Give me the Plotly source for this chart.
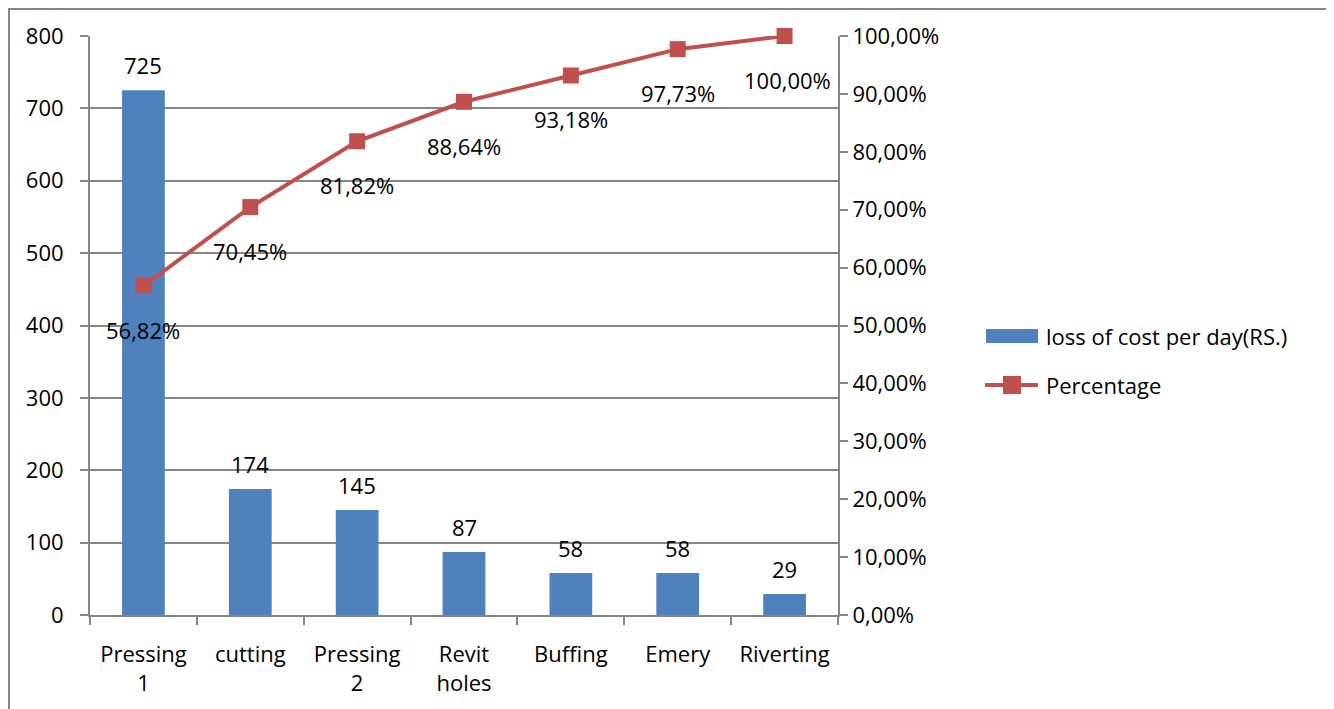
import plotly.graph_objects as go

categories = ["Pressing<br>1", "cutting", "Pressing<br>2", "Revit<br>holes", "Buffing", "Emery", "Riverting"]
loss_cost = [725, 174, 145, 87, 58, 58, 29]
cum_pct = [0.5682, 0.7045, 0.8182, 0.8864, 0.9318, 0.9773, 1.0]
left_ticks = [0, 100, 200, 300, 400, 500, 600, 700, 800]
right_ticks = [0, 0.1, 0.2, 0.3, 0.4, 0.5, 0.6, 0.7, 0.8, 0.9, 1.0]
bar_name = "loss of cost per day(RS.)"
line_name = "Percentage"

FONT = "Open Sans"
FS = 22
GRID = "#868686"
BLUE = "#4F81BD"
RED = "#C0504D"

fig = go.Figure()
fig.add_trace(go.Bar(
    x=categories, y=loss_cost, name=bar_name,
    marker=dict(color=BLUE, line=dict(width=0)), width=0.4, showlegend=False,
))
fig.add_trace(go.Scatter(
    x=categories, y=cum_pct, name=line_name, yaxis="y2",
    mode="lines+markers",
    line=dict(color=RED, width=4),
    marker=dict(symbol="square", size=16, color=RED),
    showlegend=False, cliponaxis=False,
))

annotations = []
for c, v in zip(categories, loss_cost):
    annotations.append(dict(x=c, y=v, xref="x", yref="y", text=str(v), showarrow=False,
                            yanchor="middle", yshift=25, font=dict(size=FS, family=FONT, color="black")))
for i, (c, p) in enumerate(zip(categories, cum_pct)):
    txt = f"{p*100:.2f}%".replace(".", ",")
    annotations.append(dict(x=c, y=p, xref="x", yref="y2", text=txt, showarrow=False,
                            yanchor="middle", yshift=-44, xshift=3 if i == len(categories) - 1 else 0,
                            font=dict(size=FS, family=FONT, color="black")))

# legend (drawn manually to match wide swatches)
annotations.append(dict(x=1.2754, y=0.4819, xref="paper", yref="paper", text=bar_name,
                        showarrow=False, xanchor="left", yanchor="middle",
                        font=dict(size=FS, family=FONT, color="black")))
annotations.append(dict(x=1.2754, y=0.3972, xref="paper", yref="paper", text=line_name,
                        showarrow=False, xanchor="left", yanchor="middle",
                        font=dict(size=FS, family=FONT, color="black")))

shapes = [
    dict(type="rect", xref="paper", yref="paper", x0=-0.1083, x1=1.655, y0=-0.1675, y1=1.0466,
         line=dict(color="#868686", width=2), layer="below"),
    dict(type="rect", xref="paper", yref="paper", x0=1.1979, x1=1.2674, y0=0.4698, y1=0.4940,
         fillcolor=BLUE, line=dict(width=0)),
    dict(type="line", xref="paper", yref="paper", x0=1.1965, x1=1.2674, y0=0.3972, y1=0.3972,
         line=dict(color=RED, width=4)),
    dict(type="rect", xref="paper", yref="paper", x0=1.2206, x1=1.2447, y0=0.3817, y1=0.4128,
         fillcolor=RED, line=dict(width=0)),
]

fig.update_layout(
    width=1334, height=709,
    margin=dict(l=82, r=504, t=28, b=102, autoexpand=False),
    paper_bgcolor="white", plot_bgcolor="white",
    separators=",.",
    font=dict(family=FONT, size=FS, color="black"),
    showlegend=False,
    xaxis=dict(
        automargin=False,
        showgrid=False, showline=True, linecolor=GRID, linewidth=2,
        ticks="outside", tickson="boundaries", ticklen=8, tickcolor=GRID, tickwidth=2,
        tickfont=dict(size=FS, family=FONT), ticklabelstandoff=19,
    ),
    yaxis=dict(
        automargin=False,
        range=[0, 800], tickvals=left_ticks, showgrid=True, gridcolor=GRID, gridwidth=1.5,
        showline=True, linecolor=GRID, linewidth=2, ticks="outside", ticklen=8,
        tickcolor=GRID, tickwidth=2, zeroline=False, tickfont=dict(size=FS, family=FONT),
        ticklabelstandoff=12,
    ),
    yaxis2=dict(
        automargin=False,
        range=[0, 1], tickvals=right_ticks, tickformat=".2%", overlaying="y", side="right",
        showgrid=False, showline=True, linecolor=GRID, linewidth=2, ticks="outside",
        ticklen=8, tickcolor=GRID, tickwidth=2, zeroline=False,
        tickfont=dict(size=FS, family=FONT),
    ),
    annotations=annotations,
    shapes=shapes,
)

fig.write_html("out.html")
